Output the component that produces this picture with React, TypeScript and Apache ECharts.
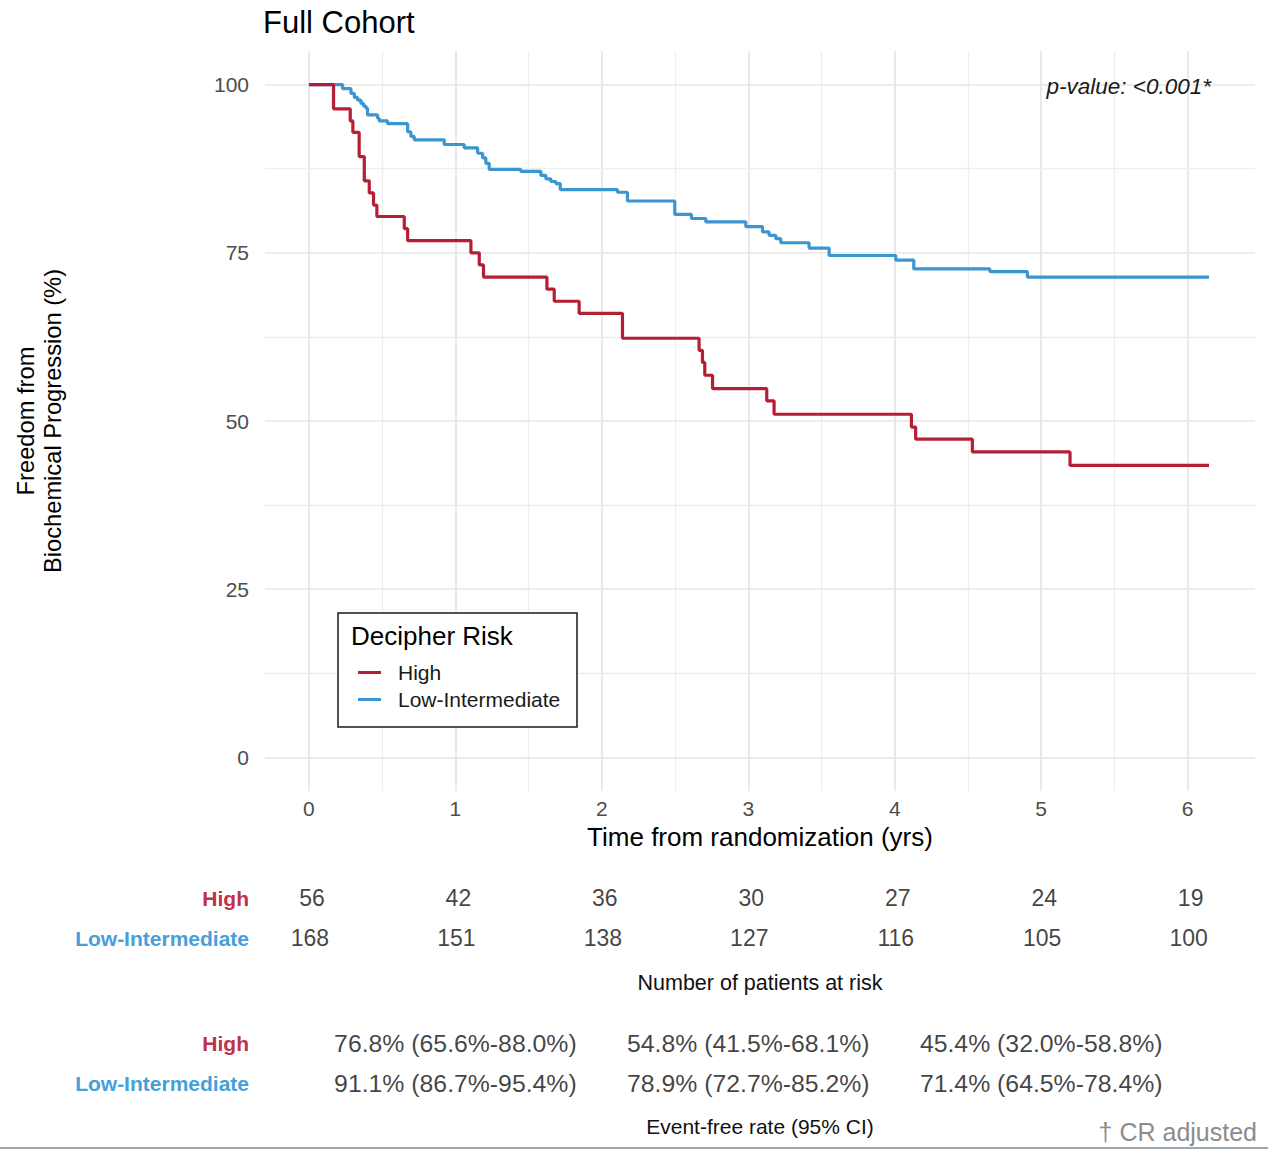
import React, { useEffect, useRef } from "react";
import * as echarts from "echarts";

const FONT = "'Liberation Sans', Arial, sans-serif";
const RED = "#b51f36";
const BLUE = "#3b95d0";

// Kaplan-Meier step curves (time in years, freedom from progression in %)
const highTimes = [0, 0.168, 0.282, 0.3, 0.343, 0.378, 0.412, 0.441, 0.464, 0.651, 0.674, 1.106, 1.163, 1.192, 1.625, 1.675, 1.845, 2.141, 2.664, 2.687, 2.703, 2.756, 3.126, 3.176, 4.114, 4.143, 4.53, 5.197, 6.146];
const highSurv = [100, 96.4, 94.6, 92.9, 89.3, 85.7, 83.9, 82.1, 80.4, 78.6, 76.8, 75.0, 73.2, 71.4, 69.6, 67.8, 66.0, 62.3, 60.5, 58.7, 56.8, 54.8, 53.0, 51.0, 49.1, 47.3, 45.4, 43.4, 43.4];

const lowTimes = [0, 0.23, 0.287, 0.31, 0.332, 0.355, 0.373, 0.389, 0.4, 0.469, 0.48, 0.537, 0.674, 0.696, 0.719, 0.924, 1.06, 1.152, 1.186, 1.208, 1.231, 1.447, 1.584, 1.618, 1.652, 1.686, 1.716, 2.107, 2.175, 2.498, 2.612, 2.71, 2.983, 3.097, 3.142, 3.188, 3.222, 3.415, 3.552, 4.007, 4.13, 4.65, 4.906, 6.146];
const lowSurv = [100, 99.4, 98.7, 98.1, 97.7, 97.2, 96.8, 96.5, 95.5, 95.0, 94.6, 94.2, 93.0, 92.3, 91.8, 91.1, 90.6, 89.8, 89.1, 88.3, 87.4, 87.1, 86.5, 86.0, 85.6, 85.3, 84.4, 84.0, 82.7, 80.7, 80.1, 79.6, 78.9, 78.1, 77.6, 77.1, 76.5, 75.7, 74.6, 73.9, 72.6, 72.2, 71.4, 71.4];

const groups = ["High", "Low-Intermediate"];
const xTicks = [0, 1, 2, 3, 4, 5, 6];
const xMinor = [0.5, 1.5, 2.5, 3.5, 4.5, 5.5];
const yTicks = [0, 25, 50, 75, 100];
const yMinor = [12.5, 37.5, 62.5, 87.5];

const riskYears = [0, 1, 2, 3, 4, 5, 6];
const riskHigh = [56, 42, 36, 30, 27, 24, 19];
const riskLow = [168, 151, 138, 127, 116, 105, 100];

const rateYears = [1, 3, 5];
const rateHigh = ["76.8% (65.6%-88.0%)", "54.8% (41.5%-68.1%)", "45.4% (32.0%-58.8%)"];
const rateLow = ["91.1% (86.7%-95.4%)", "78.9% (72.7%-85.2%)", "71.4% (64.5%-78.4%)"];

const X_MIN = -0.3;
const X_MAX = 6.46;

export default function App() {
  const ref = useRef<HTMLDivElement>(null);
  useEffect(() => {
    if (!ref.current) return;
    const chart = echarts.init(ref.current, undefined, { renderer: "svg" });

    const highData = highTimes.map((t, i) => [t, highSurv[i]]);
    const lowData = lowTimes.map((t, i) => [t, lowSurv[i]]);

    const gridLines = [
      ...xTicks.map((v) => ({ xAxis: v, lineStyle: { color: "#e6e6e6", width: 1.7 } })),
      ...xMinor.map((v) => ({ xAxis: v, lineStyle: { color: "#eeeeee", width: 1.3 } })),
      ...yTicks.map((v) => ({ yAxis: v, lineStyle: { color: "#e6e6e6", width: 1.7 } })),
      ...yMinor.map((v) => ({ yAxis: v, lineStyle: { color: "#eeeeee", width: 1.3 } })),
    ];

    const hiddenX = (grid: number, name: string, gap: number, size: number) => ({
      type: "value",
      gridIndex: grid,
      min: X_MIN,
      max: X_MAX,
      axisLine: { show: false },
      axisTick: { show: false },
      axisLabel: { show: false },
      splitLine: { show: false },
      name,
      nameLocation: "middle",
      nameGap: gap,
      nameTextStyle: { fontFamily: FONT, fontSize: size, color: "#111" },
    });

    const catY = (grid: number) => ({
      type: "category",
      gridIndex: grid,
      data: ["Low-Intermediate", "High"],
      axisLine: { show: false },
      axisTick: { show: false },
      splitLine: { show: false },
      axisLabel: {
        margin: 16,
        formatter: (v: string) => (v === "High" ? "{h|High}" : "{l|Low-Intermediate}"),
        rich: {
          h: { color: "#c0304a", fontWeight: "bold", fontSize: 21, fontFamily: FONT },
          l: { color: "#45a0da", fontWeight: "bold", fontSize: 21, fontFamily: FONT },
        },
      },
    });

    const tableLabel = (fmt: (p: any) => string, size: number, dx: number) => ({
      show: true,
      position: "inside",
      offset: [dx, 0],
      formatter: fmt,
      fontFamily: FONT,
      fontSize: size,
      color: "#111",
    });

    chart.setOption({
      animation: false,
      backgroundColor: "#ffffff",
      textStyle: { fontFamily: FONT },
      title: {
        text: "Full Cohort",
        left: 263,
        top: 7,
        padding: 0,
        textStyle: { fontFamily: FONT, fontSize: 31, fontWeight: "normal", color: "#000" },
      },
      legend: {
        data: groups,
        orient: "vertical",
        left: 353,
        top: 657,
        z: 20,
        itemWidth: 23,
        itemHeight: 3,
        itemGap: 6,
        icon: "rect",
        textStyle: { fontFamily: FONT, fontSize: 21, color: "#1a1a1a", lineHeight: 21, padding: [0, 0, 0, 12] },
        selectedMode: false,
      },
      grid: [
        { left: 265, top: 51, width: 990, height: 740 },
        { left: 265, top: 878, width: 990, height: 80 },
        { left: 265, top: 1023, width: 990, height: 80 },
      ],
      xAxis: [
        {
          type: "value",
          gridIndex: 0,
          min: X_MIN,
          max: X_MAX,
          axisLine: { show: false },
          axisTick: { show: false },
          splitLine: { show: false },
          axisLabel: {
            customValues: xTicks,
            margin: 7,
            fontSize: 21,
            color: "#4d4d4d",
            fontFamily: FONT,
          },
          name: "Time from randomization (yrs)",
          nameLocation: "middle",
          nameGap: 33,
          nameTextStyle: { fontFamily: FONT, fontSize: 26, color: "#000" },
        },
        hiddenX(1, "Number of patients at risk", 14, 21.5),
        hiddenX(2, "Event-free rate (95% CI)", 13, 21),
      ],
      yAxis: [
        {
          type: "value",
          gridIndex: 0,
          min: -5,
          max: 105,
          axisLine: { show: false },
          axisTick: { show: false },
          splitLine: { show: false },
          axisLabel: {
            customValues: yTicks,
            margin: 16,
            fontSize: 21,
            color: "#4d4d4d",
            fontFamily: FONT,
          },
          name: "Freedom from\nBiochemical Progression (%)",
          nameLocation: "middle",
          nameRotate: 90,
          nameGap: 199,
          nameTextStyle: { fontFamily: FONT, fontSize: 23.7, lineHeight: 27, color: "#000" },
        },
        catY(1),
        catY(2),
      ],
      series: [
        {
          name: "gridlines",
          type: "line",
          xAxisIndex: 0,
          yAxisIndex: 0,
          data: [],
          silent: true,
          z: 1,
          markLine: {
            silent: true,
            z: 1,
            symbol: ["none", "none"],
            label: { show: false },
            lineStyle: { type: "solid" },
            data: gridLines,
          },
        },
        {
          name: "Low-Intermediate",
          type: "line",
          step: "end",
          xAxisIndex: 0,
          yAxisIndex: 0,
          data: lowData,
          showSymbol: false,
          symbol: "none",
          color: BLUE,
          lineStyle: { color: BLUE, width: 3.2 },
          z: 3,
        },
        {
          name: "High",
          type: "line",
          step: "end",
          xAxisIndex: 0,
          yAxisIndex: 0,
          data: highData,
          showSymbol: false,
          symbol: "none",
          color: RED,
          lineStyle: { color: RED, width: 3.2 },
          z: 4,
        },
        {
          name: "risk-high",
          type: "scatter",
          xAxisIndex: 1,
          yAxisIndex: 1,
          symbolSize: 0.1,
          itemStyle: { color: "transparent" },
          data: riskYears.map((y, i) => [y, "High", riskHigh[i]]),
          label: tableLabel((p: any) => String(riskHigh[p.dataIndex]), 23, 3),
        },
        {
          name: "risk-low",
          type: "scatter",
          xAxisIndex: 1,
          yAxisIndex: 1,
          symbolSize: 0.1,
          itemStyle: { color: "transparent" },
          data: riskYears.map((y, i) => [y, "Low-Intermediate", riskLow[i]]),
          label: tableLabel((p: any) => String(riskLow[p.dataIndex]), 23, 1),
        },
        {
          name: "rate-high",
          type: "scatter",
          xAxisIndex: 2,
          yAxisIndex: 2,
          symbolSize: 0.1,
          itemStyle: { color: "transparent" },
          data: rateYears.map((y) => [y, "High"]),
          label: tableLabel((p: any) => rateHigh[p.dataIndex], 24.8, 0),
        },
        {
          name: "rate-low",
          type: "scatter",
          xAxisIndex: 2,
          yAxisIndex: 2,
          symbolSize: 0.1,
          itemStyle: { color: "transparent" },
          data: rateYears.map((y) => [y, "Low-Intermediate"]),
          label: tableLabel((p: any) => rateLow[p.dataIndex], 24.8, 0),
        },
      ],
      graphic: [
        {
          type: "text",
          right: 1268 - 1211,
          top: 75,
          z: 10,
          style: {
            text: "p-value: <0.001*",
            fontFamily: FONT,
            fontSize: 22.5,
            fontStyle: "italic",
            fill: "#1a1a1a",
          },
        },
        {
          type: "rect",
          shape: { x: 338, y: 613, width: 239, height: 114 },
          style: { fill: "#ffffff", stroke: "#1a1a1a", lineWidth: 1.5 },
          z: 5,
        },
        {
          type: "text",
          x: 351,
          y: 623,
          style: {
            text: "Decipher Risk",
            fontFamily: FONT,
            fontSize: 26,
            fill: "#000",
          },
          z: 6,
        },
        {
          type: "text",
          right: 11,
          top: 1119,
          style: {
            text: "\u2020 CR adjusted",
            fontFamily: FONT,
            fontSize: 25,
            fill: "#8c8c8c",
          },
        },
        {
          type: "line",
          shape: { x1: 0, y1: 1148, x2: 1268, y2: 1148 },
          style: { stroke: "#9ea7ad", lineWidth: 2 },
        },
      ],
    });
    return () => chart.dispose();
  }, []);
  return (
    <div
      ref={ref}
      style={{ position: "absolute", left: 0, top: 0, width: 1268, height: 1150, background: "#fff" }}
    />
  );
}
